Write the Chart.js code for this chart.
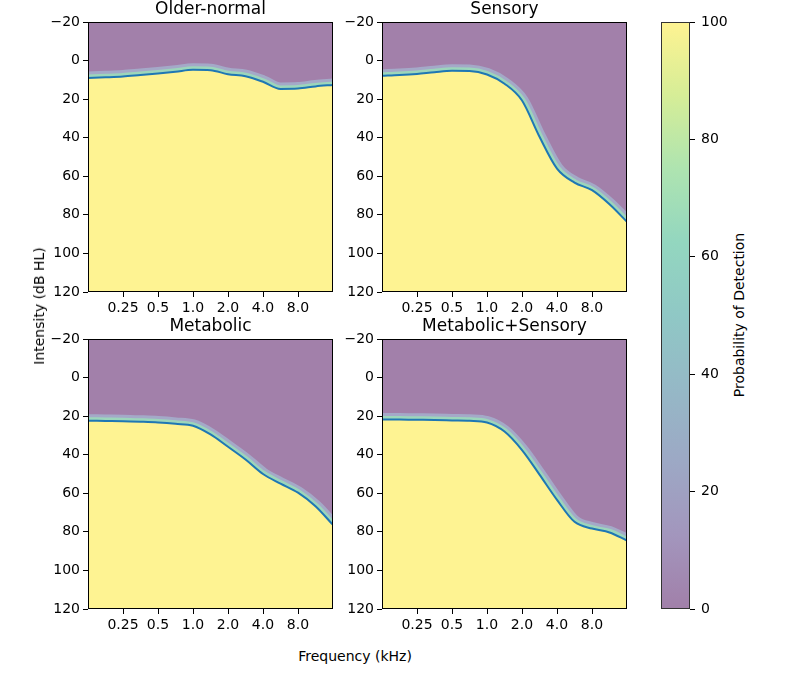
<!DOCTYPE html>
<html lang="en">
<head>
  <meta charset="UTF-8" />
  <title>Detection probability by phenotype</title>
  <script src="https://cdn.jsdelivr.net/npm/chart.js"></script>
  <style>
    body {
      margin: 0;
      background: #fff;
      font-family: "DejaVu Sans", sans-serif;
    }
    .stage {
      position: relative;
      width: 789px;
      height: 684px;
      overflow: hidden;
    }
    .stage canvas {
      position: absolute;
    }
    .lbl {
      position: absolute;
      font-size: 14px;
      line-height: 1;
      color: #000;
      white-space: nowrap;
      transform: translate(-50%, -50%);
    }
    .lbl.vert {
      transform: translate(-50%, -50%) rotate(-90deg);
    }
  </style>
</head>
<body>

<div class="stage">
  <canvas id="olderNormal" width="301" height="320" style="left:40px; top:0px;"></canvas>
  <canvas id="sensory" width="301" height="320" style="left:334px; top:0px;"></canvas>
  <canvas id="metabolic" width="301" height="320" style="left:40px; top:317px;"></canvas>
  <canvas id="metabolicSensory" width="301" height="320" style="left:334px; top:317px;"></canvas>
  <canvas id="colorbar" width="75" height="630" style="left:655px; top:0px;"></canvas>

  <div class="lbl vert" style="left:39px; top:306px;">Intensity (dB HL)</div>
  <div class="lbl" style="left:355px; top:656px;">Frequency (kHz)</div>
  <div class="lbl vert" style="left:739px; top:315px;">Probability of Detection</div>
</div>

<script>
  // x positions in octaves above 0.125 kHz (0 = 0.125 kHz, 7 = 16 kHz)
  const octaves = [0, 0.5, 1, 1.5, 2, 2.5, 3, 3.5, 4, 4.5, 5, 5.5, 6, 6.5, 7];
  const freqTicks = [1, 2, 3, 4, 5, 6];
  const freqLabels = ['0.25', '0.5', '1.0', '2.0', '4.0', '8.0'];
  const intensityTicks = [-20, 0, 20, 40, 60, 80, 100, 120];
  const probTicks = [0, 20, 40, 60, 80, 100];

  // threshold curves (dB HL)
  const olderNormal      = [9.0, 8.7, 8.3, 7.5, 6.7, 5.8, 4.8, 5.0, 7.1, 8.1, 11.0, 14.7, 14.5, 13.4, 12.6];
  const sensory          = [7.9, 7.5, 6.9, 6.0, 5.3, 5.4, 7.2, 12.0, 20.7, 39.5, 56.0, 63.3, 67.2, 74.5, 83.6];
  const metabolic        = [22.4, 22.5, 22.6, 22.9, 23.3, 24.0, 25.0, 29.5, 35.9, 42.5, 50.0, 55.0, 59.7, 66.7, 76.4];
  const metabolicSensory = [21.7, 21.8, 21.9, 22.0, 22.2, 22.4, 23.3, 28.0, 37.6, 50.3, 63.4, 74.8, 78.3, 80.3, 84.5];

  const viridis = ['#440154', '#472d7b', '#3b528b', '#2c728e', '#21918c', '#28ae80', '#5ec962', '#addc30', '#fde725'];

  const tickFont = { family: 'DejaVu Sans', size: 14 };

  // black box around the plot area, like matplotlib spines
  const frame = {
    id: 'frame',
    afterDatasetsDraw(chart, args, opts) {
      const a = chart.chartArea, c = chart.ctx;
      c.save();
      c.strokeStyle = opts.color || '#000';
      c.lineWidth = 1;
      c.strokeRect(Math.round(a.left) + 0.5, Math.round(a.top) + 0.5,
                   Math.round(a.right - a.left) - 1, Math.round(a.bottom - a.top) - 1);
      c.restore();
    }
  };

  const panelTitle = {
    id: 'panelTitle',
    afterDraw(chart, args, opts) {
      if (!opts.text) return;
      const a = chart.chartArea, c = chart.ctx;
      c.save();
      c.font = '17px "DejaVu Sans"';
      c.fillStyle = '#000';
      c.textAlign = 'center';
      c.textBaseline = 'alphabetic';
      c.fillText(opts.text, (a.left + a.right) / 2, a.top - 8);
      c.restore();
    }
  };

  function makePanel(id, title, thresholds) {
    const pts = octaves.map((x, i) => ({ x: x, y: thresholds[i] }));
    const base = { data: pts, pointRadius: 0, cubicInterpolationMode: 'monotone', clip: 0 };

    new Chart(document.getElementById(id), {
      type: 'line',
      data: {
        datasets: [
          // index 0 is drawn last (on top)
          { ...base, borderColor: '#1f77b4', borderWidth: 2, fill: false },
          { ...base, borderWidth: 0, borderColor: 'rgba(0,0,0,0)', backgroundColor: '#fef392', fill: 'start' },
          { ...base, borderColor: '#9cd6bb', borderWidth: 7, fill: false },
          { ...base, borderColor: '#a4a9c8', borderWidth: 13, fill: false },
          { ...base, borderWidth: 0, borderColor: 'rgba(0,0,0,0)', backgroundColor: '#a280aa', fill: 'end' }
        ]
      },
      options: {
        responsive: false,
        animation: false,
        devicePixelRatio: 1,
        layout: { padding: { left: 0, top: 22, right: 8, bottom: 0 } },
        plugins: {
          legend: { display: false },
          tooltip: { enabled: false },
          panelTitle: { text: title }
        },
        scales: {
          x: {
            type: 'linear',
            min: 0,
            max: 7,
            afterBuildTicks: s => { s.ticks = freqTicks.map(v => ({ value: v })); },
            afterFit: s => { s.height = 28; },
            ticks: {
              callback: (v, i) => freqLabels[i],
              font: tickFont,
              color: '#000',
              padding: 3,
              maxRotation: 0,
              autoSkip: false
            },
            grid: { drawOnChartArea: false, tickLength: 5, color: '#000' },
            border: { display: false }
          },
          y: {
            type: 'linear',
            reverse: true,
            min: -20,
            max: 120,
            afterBuildTicks: s => { s.ticks = intensityTicks.map(v => ({ value: v })); },
            afterFit: s => { s.width = 48; },
            ticks: {
              callback: v => v < 0 ? '\u2212' + Math.abs(v) : String(v),
              font: tickFont,
              color: '#000',
              padding: 3,
              autoSkip: false
            },
            grid: { drawOnChartArea: false, tickLength: 5, color: '#000' },
            border: { display: false }
          }
        }
      },
      plugins: [frame, panelTitle]
    });
  }

  makePanel('olderNormal', 'Older-normal', olderNormal);
  makePanel('sensory', 'Sensory', sensory);
  makePanel('metabolic', 'Metabolic', metabolic);
  makePanel('metabolicSensory', 'Metabolic+Sensory', metabolicSensory);

  // colorbar
  new Chart(document.getElementById('colorbar'), {
    type: 'bar',
    data: {
      labels: [''],
      datasets: [{
        data: [probTicks[probTicks.length - 1]],
        categoryPercentage: 1,
        barPercentage: 1,
        borderWidth: 0,
        backgroundColor: ctx => {
          const a = ctx.chart.chartArea;
          if (!a) return 'rgba(68,1,84,0.5)';
          const g = ctx.chart.ctx.createLinearGradient(0, a.bottom, 0, a.top);
          viridis.forEach((col, i) => {
            const r = parseInt(col.slice(1, 3), 16), gg = parseInt(col.slice(3, 5), 16), b = parseInt(col.slice(5, 7), 16);
            g.addColorStop(i / (viridis.length - 1), `rgba(${r},${gg},${b},0.5)`);
          });
          return g;
        }
      }]
    },
    options: {
      responsive: false,
      animation: false,
      devicePixelRatio: 1,
      layout: { padding: { left: 6, top: 22, right: 0, bottom: 21 } },
      plugins: {
        legend: { display: false },
        tooltip: { enabled: false },
        frame: { color: '#333' }
      },
      scales: {
        x: { display: false },
        y: {
          position: 'right',
          min: 0,
          max: 100,
          afterBuildTicks: s => { s.ticks = probTicks.map(v => ({ value: v })); },
          afterFit: s => { s.width = 40; },
          ticks: { font: tickFont, color: '#000', padding: 6 },
          grid: { drawOnChartArea: false, tickLength: 5, color: '#000' },
          border: { display: false }
        }
      }
    },
    plugins: [frame]
  });
</script>
</body>
</html>
